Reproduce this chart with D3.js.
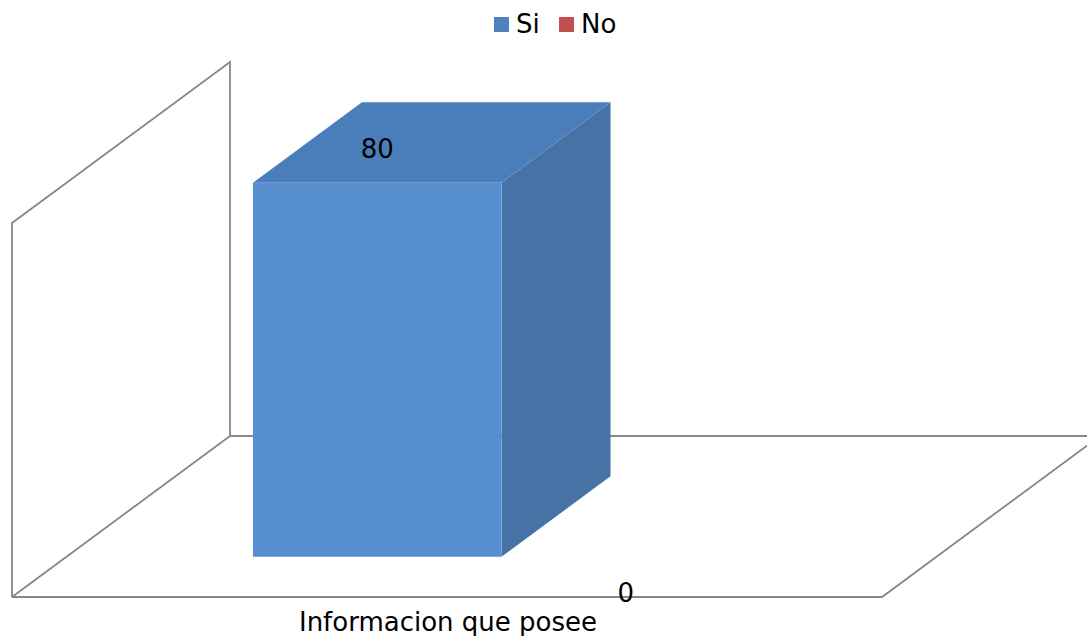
<!DOCTYPE html>
<html>
<head>
<meta charset="utf-8">
<script src="https://cdn.jsdelivr.net/npm/d3@7"></script>
<style>
  html, body { margin: 0; padding: 0; background: #fff; }
  svg { display: block; font-family: "DejaVu Sans", sans-serif; }
</style>
</head>
<body>
<svg id="chart" width="1087" height="636"></svg>
<script>
// Categories, series and values
const categories = ["Informacion que posee"];
const seriesNames = ["Si", "No"];
const siValues = [80];
const noValues = [0];
const axisMax = 80;

const seriesColors = {
  Si: { front: "rgb(86,142,207)", top: "rgb(74,126,186)", side: "rgb(70,114,166)", key: "#4F81BD" },
  No: { front: "#C0504D", top: "#A94542", side: "#963C3A", key: "#C0504D" }
};

const svg = d3.select("#chart");
const fontSize = 26;

// Oblique 3D projection: front plane box + depth vector
const frontLeft = 12, frontRight = 882;
const floorY = 597, topY = 223;
const depthVec = [218, -161];
const barDepth = [0.25, 0.75];

const x0 = d3.scaleBand().domain(categories).range([frontLeft, frontRight]).padding(0);
const x1 = d3.scaleBand().domain(seriesNames).range([0, x0.bandwidth()])
  .paddingInner(0).paddingOuter(0.75);
const y = d3.scaleLinear().domain([0, axisMax]).range([floorY, topY]);

function proj(px, v, d) {
  return [px + d * depthVec[0], y(v) + d * depthVec[1]];
}

const gridColor = "#878787";
const walls = svg.append("g").attr("fill", "none").attr("stroke", gridColor).attr("stroke-width", 1.8);

// Left wall
walls.append("path")
  .attr("d", d3.line()([
    proj(frontLeft, 0, 0), proj(frontLeft, axisMax, 0),
    proj(frontLeft, axisMax, 1), proj(frontLeft, 0, 1)
  ]));
walls.append("path")
  .attr("d", d3.line()([proj(frontLeft, 0, 0), proj(frontLeft, 0, 1)]));

// Floor
walls.append("path")
  .attr("d", d3.line()([
    proj(frontLeft, 0, 1), proj(frontRight, 0, 1),
    proj(frontRight, 0, 0), proj(frontLeft, 0, 0)
  ]));

// Bars
const data = [];
categories.forEach((c, i) => {
  data.push({ cat: c, series: "Si", value: siValues[i] });
  data.push({ cat: c, series: "No", value: noValues[i] });
});

const bars = svg.append("g");
data.filter(d => d.value > 0).forEach(d => {
  const xa = x0(d.cat) + x1(d.series);
  const xb = xa + x1.bandwidth();
  const [d0, d1] = barDepth;
  const col = seriesColors[d.series];
  const line = d3.line();
  bars.append("path").attr("fill", col.side)
    .attr("d", line([proj(xb, 0, d0), proj(xb, d.value, d0), proj(xb, d.value, d1), proj(xb, 0, d1)]) + "Z");
  bars.append("path").attr("fill", col.top)
    .attr("d", line([proj(xa, d.value, d0), proj(xb, d.value, d0), proj(xb, d.value, d1), proj(xa, d.value, d1)]) + "Z");
  bars.append("path").attr("fill", col.front)
    .attr("d", line([proj(xa, 0, d0), proj(xb, 0, d0), proj(xb, d.value, d0), proj(xa, d.value, d0)]) + "Z");
});

// Data labels
const labels = svg.append("g").attr("font-size", fontSize).attr("fill", "#000").attr("text-anchor", "middle");
data.forEach(d => {
  const xa = x0(d.cat) + x1(d.series);
  const cx = xa + x1.bandwidth() / 2 + barDepth[0] * depthVec[0];
  const ly = d.value > 0 ? proj(0, d.value, barDepth[0])[1] - 25 : y(0) + 5;
  labels.append("text").attr("x", cx).attr("y", ly).text(d.value);
});

// Category label
svg.append("g").selectAll("text").data(categories).join("text")
  .attr("x", d => x0(d) + x0.bandwidth() / 2 + 1)
  .attr("y", 631)
  .attr("text-anchor", "middle")
  .attr("font-size", fontSize)
  .attr("fill", "#000")
  .text(d => d);

// Legend
const legend = svg.append("g").attr("font-size", fontSize);
const legendX = [494, 559];
seriesNames.forEach((s, i) => {
  const g = legend.append("g").attr("transform", `translate(${legendX[i]},17)`);
  g.append("rect").attr("width", 15).attr("height", 15).attr("fill", seriesColors[s].key);
  g.append("text").attr("x", 22).attr("y", 16).attr("fill", "#000").text(s);
});
</script>
</body>
</html>
